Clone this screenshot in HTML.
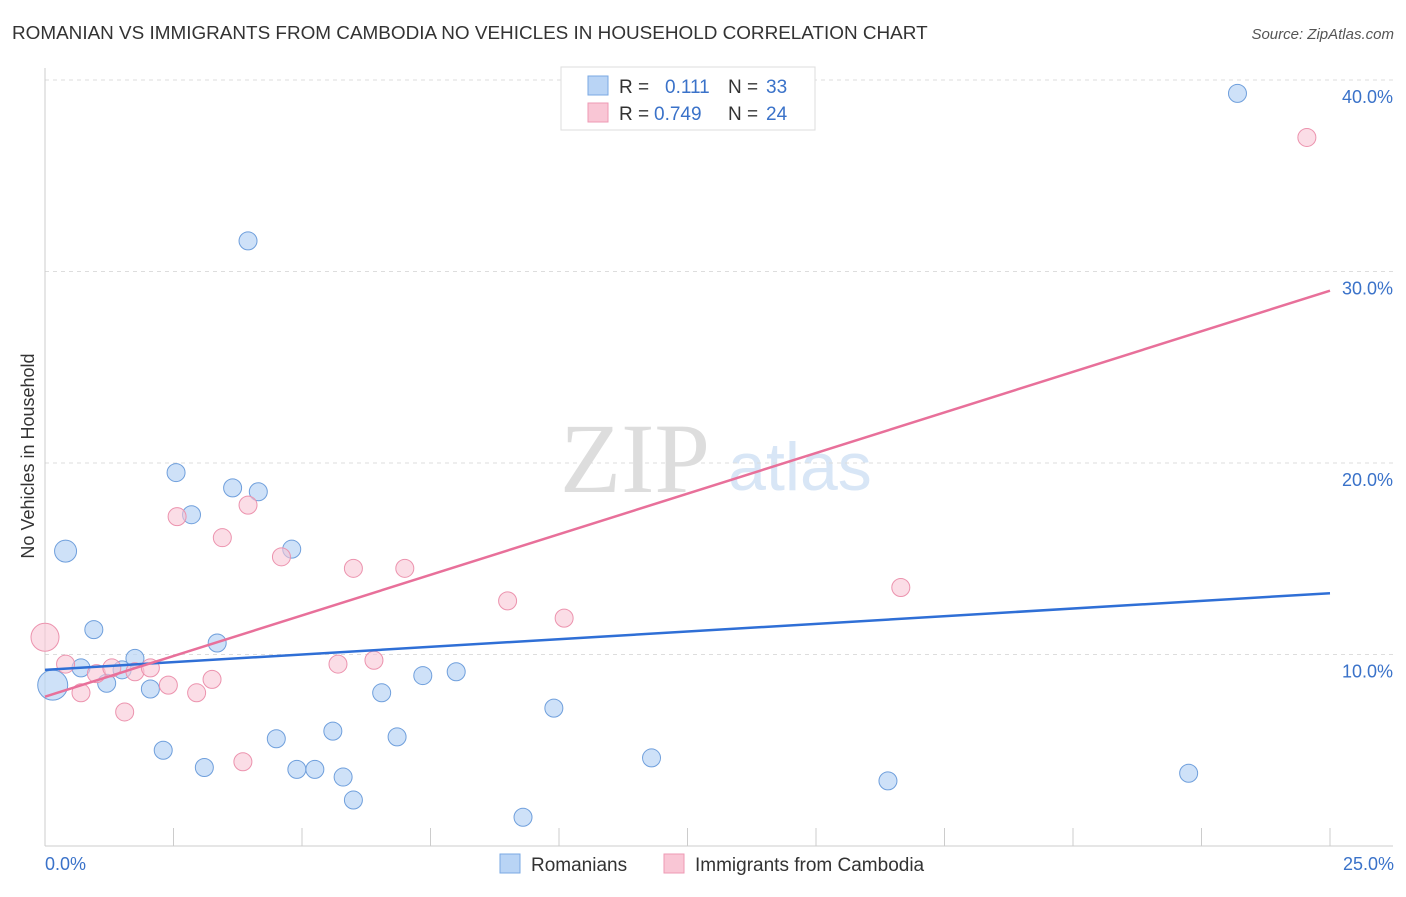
<!DOCTYPE html>
<html><head><meta charset="utf-8"><style>
body{margin:0;background:#fff;font-family:"Liberation Sans",sans-serif;}
svg text{font-family:"Liberation Sans",sans-serif;}
</style></head><body>
<svg id="chart" width="1406" height="892">
<text x="12" y="39" font-size="18.9" fill="#333">ROMANIAN VS IMMIGRANTS FROM CAMBODIA NO VEHICLES IN HOUSEHOLD CORRELATION CHART</text>
<text x="1394" y="39" font-size="15" fill="#555" font-style="italic" text-anchor="end">Source: ZipAtlas.com</text>
<text x="635" y="492" font-size="100" fill="#ddd" style="font-family:'Liberation Serif',serif" text-anchor="middle">ZIP</text>
<text x="800" y="490" font-size="68" fill="#d8e6f6" text-anchor="middle">atlas</text>
<g id="grid"></g>
<g id="axes"></g>
<g id="marks"></g>
<text transform="translate(34,456) rotate(-90)" font-size="18" fill="#333" text-anchor="middle">No Vehicles in Household</text>
<g>
<rect x="561" y="67" width="254" height="63" fill="#fff" stroke="#ddd"/>
<rect x="588" y="76" width="20" height="19" fill="#b9d4f5" stroke="#7aa8e3"/>
<rect x="588" y="103" width="20" height="19" fill="#f9c6d5" stroke="#ee9ab4"/>
<text x="619" y="93" font-size="19" fill="#333">R = </text><text x="665" y="93" font-size="19" fill="#3a72c9">0.111</text>
<text x="728" y="93" font-size="19" fill="#333">N = </text><text x="766" y="93" font-size="19" fill="#3a72c9">33</text>
<text x="619" y="120" font-size="19" fill="#333">R = </text><text x="654" y="120" font-size="19" fill="#3a72c9">0.749</text>
<text x="728" y="120" font-size="19" fill="#333">N = </text><text x="766" y="120" font-size="19" fill="#3a72c9">24</text>
</g>
<g>
<rect x="500" y="854" width="20" height="19" fill="#b9d4f5" stroke="#7aa8e3"/>
<text x="531" y="871" font-size="19" fill="#333">Romanians</text>
<rect x="664" y="854" width="20" height="19" fill="#f9c6d5" stroke="#ee9ab4"/>
<text x="695" y="871" font-size="19" fill="#333">Immigrants from Cambodia</text>
</g>
</svg>
<script>
const blueX=[0.15,0.4,0.7,0.95,1.2,1.5,1.75,2.05,2.3,2.55,2.85,3.1,3.35,3.65,3.95,4.15,4.5,4.8,4.9,5.25,5.6,5.8,6.0,6.55,6.85,7.35,8.0,9.3,9.9,11.8,16.4,22.25,23.2];
const blueY=[8.4,15.4,9.3,11.3,8.5,9.2,9.8,8.2,5.0,19.5,17.3,4.1,10.6,18.7,31.6,18.5,5.6,15.5,4.0,4.0,6.0,3.6,2.4,8.0,5.7,8.9,9.1,1.5,7.2,4.6,3.4,3.8,39.3];
const blueR=[15,11,9,9,9,9,9,9,9,9,9,9,9,9,9,9,9,9,9,9,9,9,9,9,9,9,9,9,9,9,9,9,9];
const pinkX=[0.0,0.4,0.7,1.0,1.3,1.55,1.75,2.05,2.4,2.57,2.95,3.25,3.45,3.85,3.95,4.6,5.7,6.0,6.4,7.0,9.0,10.1,16.65,24.55];
const pinkY=[10.9,9.5,8.0,9.0,9.3,7.0,9.1,9.3,8.4,17.2,8.0,8.7,16.1,4.4,17.8,15.1,9.5,14.5,9.7,14.5,12.8,11.9,13.5,37.0];
const pinkR=[14,9,9,9,9,9,9,9,9,9,9,9,9,9,9,9,9,9,9,9,9,9,9,9];
const xTicks=["0.0%","25.0%"];
const yTicks=[10,20,30,40];
const blueTrend=[9.2,13.2];
const pinkTrend=[7.8,29.0];
const sx=v=>45+v*51.4, sy=v=>846-v*19.15;
const NS="http://www.w3.org/2000/svg";
function mk(p,tag,a){const e=document.createElementNS(NS,tag);for(const k in a)e.setAttribute(k,a[k]);p.appendChild(e);return e;}
const grid=document.getElementById('grid'),axes=document.getElementById('axes'),marks=document.getElementById('marks');
yTicks.forEach(t=>{const l=mk(grid,'line',{x1:45,x2:1393,y1:sy(t),y2:sy(t),stroke:'#ddd','stroke-dasharray':'4,4'});


const tx=mk(grid,'text',{x:1393,y:sy(t)+23,'font-size':18,fill:'#3a72c9','text-anchor':'end'});tx.textContent=t.toFixed(1)+'%';

});
mk(axes,'line',{x1:45,x2:45,y1:68,y2:846,stroke:'#ccc'});
mk(axes,'line',{x1:45,x2:1393,y1:846,y2:846,stroke:'#ccc'});
for(let i=1;i<=10;i++){const x=sx(i*2.5);const t=mk(axes,'line',{x1:x,x2:x,y1:828,y2:846,stroke:'#ccc'});

}
const x0=mk(axes,'text',{x:45,y:870,'font-size':18,fill:'#3a72c9'});x0.textContent=xTicks[0];


const x1=mk(axes,'text',{x:1394,y:870,'font-size':18,fill:'#3a72c9','text-anchor':'end'});x1.textContent=xTicks[1];


blueX.forEach((v,i)=>{const c=mk(marks,'circle',{cx:sx(v),cy:sy(blueY[i]),r:blueR[i],fill:'rgba(185,212,245,0.7)',stroke:'#6f9fdc','stroke-width':1});

});
pinkX.forEach((v,i)=>{const c=mk(marks,'circle',{cx:sx(v),cy:sy(pinkY[i]),r:pinkR[i],fill:'rgba(249,198,213,0.6)',stroke:'#ec93ae','stroke-width':1});

});
const bl=mk(marks,'line',{x1:sx(0),y1:sy(blueTrend[0]),x2:sx(25),y2:sy(blueTrend[1]),stroke:'#2f6fd6','stroke-width':2.5});


const pl=mk(marks,'line',{x1:sx(0),y1:sy(pinkTrend[0]),x2:sx(25),y2:sy(pinkTrend[1]),stroke:'#e8709a','stroke-width':2.5});


</script>
</body></html>
